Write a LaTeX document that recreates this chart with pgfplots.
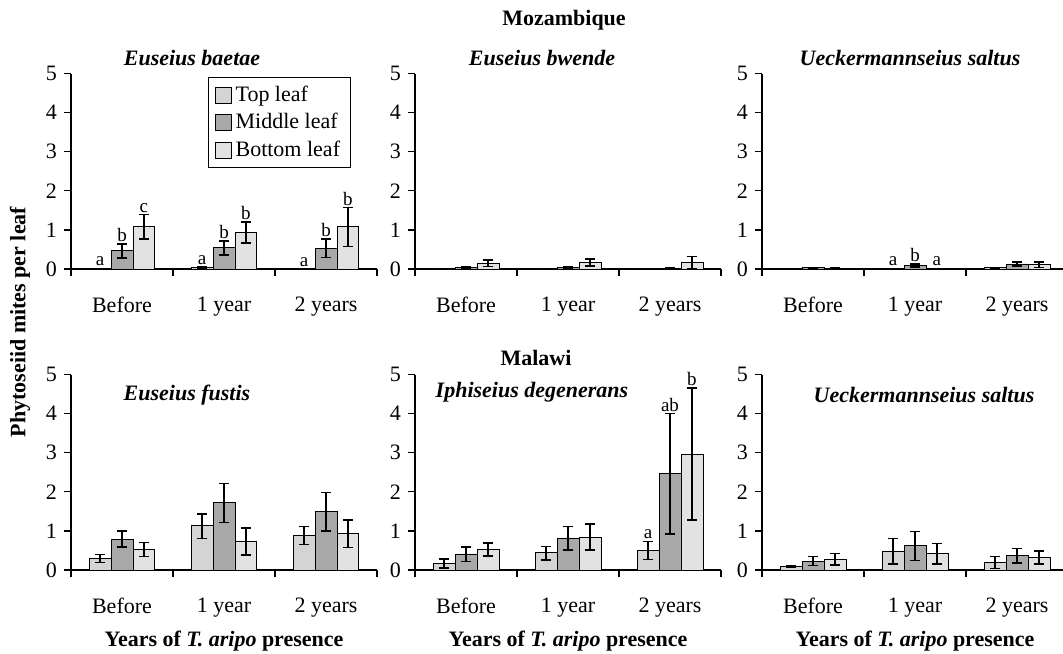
\documentclass[border=0pt]{standalone}
\usepackage{fontspec}
\setmainfont{Liberation Serif}
\usepackage{pgfplots}
\pgfplotsset{compat=1.18}
\usepackage{pgfplotstable}

\definecolor{topc}{HTML}{D4D4D4}
\definecolor{midc}{HTML}{A8A8A8}
\definecolor{botc}{HTML}{E2E2E2}

% x  top  tp  tm  mid  mp  mm  bot  bp  bm
\pgfplotstableread{
x t tp tm m mp mm b bp bm
0 0.02 0.00 0.00 0.47 0.17 0.19 1.08 0.31 0.31
1 0.04 0.01 0.01 0.55 0.17 0.19 0.94 0.26 0.27
2 0.01 0.00 0.00 0.53 0.24 0.23 1.08 0.49 0.51
}\tabA
\pgfplotstableread{
x t tp tm m mp mm b bp bm
0 0.00 0.00 0.00 0.04 0.01 0.01 0.15 0.08 0.08
1 0.00 0.00 0.00 0.05 0.02 0.02 0.17 0.09 0.09
2 0.00 0.00 0.00 0.02 0.01 0.01 0.17 0.15 0.15
}\tabB
\pgfplotstableread{
x t tp tm m mp mm b bp bm
0 0.01 0.00 0.00 0.03 0.01 0.01 0.02 0.01 0.01
1 0.02 0.00 0.00 0.09 0.04 0.04 0.02 0.00 0.00
2 0.03 0.00 0.00 0.13 0.05 0.05 0.11 0.07 0.07
}\tabC
\pgfplotstableread{
x t tp tm m mp mm b bp bm
0 0.29 0.10 0.10 0.79 0.21 0.20 0.53 0.17 0.18
1 1.13 0.30 0.32 1.72 0.50 0.51 0.73 0.34 0.35
2 0.89 0.23 0.23 1.49 0.50 0.49 0.93 0.35 0.35
}\tabD
\pgfplotstableread{
x t tp tm m mp mm b bp bm
0 0.16 0.12 0.11 0.41 0.18 0.19 0.53 0.16 0.17
1 0.44 0.16 0.18 0.82 0.30 0.31 0.84 0.34 0.33
2 0.51 0.22 0.24 2.47 1.53 1.55 2.96 1.69 1.68
}\tabE
\pgfplotstableread{
x t tp tm m mp mm b bp bm
0 0.08 0.02 0.02 0.23 0.11 0.11 0.27 0.15 0.14
1 0.48 0.32 0.33 0.62 0.36 0.37 0.43 0.25 0.28
2 0.20 0.14 0.16 0.37 0.18 0.19 0.32 0.17 0.17
}\tabF

\tikzset{
  sig/.style={font=\fontsize{9.5}{10}\selectfont, above, inner sep=1pt},
  ttl/.style={font=\fontsize{11}{13}\selectfont\bfseries\itshape},
}
\pgfplotsset{
  panel/.style={
    scale only axis, width=153pt, height=97.75pt,
    xmin=-0.5, xmax=2.5, ymin=0, ymax=5,
    axis x line=bottom, axis y line=left,
    axis line style={-, line width=0.6pt},
    ytick={0,1,2,3,4,5},
    xtick={0,1,2}, xticklabels={Before,1 year,2 years},
    minor xtick={-0.5,0.5,1.5,2.5},
    tick align=outside,
    major tick length=3.5pt, minor tick length=3.5pt,
    major x tick style={draw=none},
    every tick/.style={black, line width=0.6pt},
    /pgf/number format/assume math mode=true,
    font=\fontsize{11}{13}\selectfont,
    xticklabel style={yshift=-7pt},
    ybar=0pt, bar width=0.215,
    error bars/y dir=both, error bars/y explicit,
    error bars/error bar style={black, line width=0.7pt},
    error bars/error mark options={rotate=90, mark size=2.6pt, line width=0.7pt, black},
    legend image code/.code={\draw[#1, draw=black, line width=0.5pt] (0pt,-4pt) rectangle (8pt,4pt);},
    clip=false,
  },
  topbar/.style={fill=topc, draw=black, line width=0.4pt},
  midbar/.style={fill=midc, draw=black, line width=0.4pt},
  botbar/.style={fill=botc, draw=black, line width=0.4pt},
}

\newcommand{\threebars}[1]{%
  \addplot[topbar] table[x=x, y=t, y error plus=tp, y error minus=tm] {#1};
  \addplot[midbar] table[x=x, y=m, y error plus=mp, y error minus=mm] {#1};
  \addplot[botbar] table[x=x, y=b, y error plus=bp, y error minus=bm] {#1};
}

\begin{document}
\begin{tikzpicture}
\useasboundingbox (0,0) rectangle (531.5pt,-326.5pt);

% ---------- top row ----------
\begin{axis}[panel, at={(35.5pt,-134.5pt)}, anchor=south west,
  legend style={at={(0.448,0.98)}, anchor=north west, draw=black, line width=0.5pt,
    font=\fontsize{11}{13}\selectfont, row sep=0.5pt, inner xsep=3pt, inner ysep=2pt,
    /tikz/every even column/.append style={column sep=1pt}},
  legend cell align=left]
\threebars{\tabA}
\legend{Top leaf, Middle leaf, Bottom leaf}
\node[sig] at (axis cs:-0.215,0.02) {a};
\node[sig] at (axis cs:0,0.64) {b};
\node[sig] at (axis cs:0.215,1.39) {c};
\node[sig] at (axis cs:0.785,0.05) {a};
\node[sig] at (axis cs:1,0.72) {b};
\node[sig] at (axis cs:1.215,1.20) {b};
\node[sig] at (axis cs:1.785,0.01) {a};
\node[sig] at (axis cs:2,0.77) {b};
\node[sig] at (axis cs:2.215,1.57) {b};
\end{axis}

\begin{axis}[panel, at={(207.5pt,-134.5pt)}, anchor=south west]
\threebars{\tabB}
\end{axis}

\begin{axis}[panel, at={(381pt,-134.5pt)}, anchor=south west]
\threebars{\tabC}
\node[sig] at (axis cs:0.785,0.02) {a};
\node[sig] at (axis cs:1,0.13) {b};
\node[sig] at (axis cs:1.215,0.02) {a};
\end{axis}

% ---------- bottom row ----------
\begin{axis}[panel, at={(35.5pt,-285pt)}, anchor=south west,
  xlabel={\bfseries Years of \textit{T. aripo} presence},
  xlabel style={at={(axis description cs:0.5,-0.365)}, anchor=center}]
\threebars{\tabD}
\end{axis}

\begin{axis}[panel, at={(207.5pt,-285pt)}, anchor=south west,
  xlabel={\bfseries Years of \textit{T. aripo} presence},
  xlabel style={at={(axis description cs:0.5,-0.365)}, anchor=center}]
\threebars{\tabE}
\node[sig] at (axis cs:1.785,0.73) {a};
\node[sig] at (axis cs:2,4.00) {ab};
\node[sig] at (axis cs:2.215,4.65) {b};
\end{axis}

\begin{axis}[panel, at={(381pt,-285pt)}, anchor=south west,
  xlabel={\bfseries Years of \textit{T. aripo} presence},
  xlabel style={at={(axis description cs:0.5,-0.365)}, anchor=center}]
\threebars{\tabF}
\end{axis}

% ---------- titles ----------
\node[font=\fontsize{11}{13}\selectfont\bfseries] at (282pt,-10pt) {Mozambique};
\node[font=\fontsize{11}{13}\selectfont\bfseries] at (268pt,-179pt) {Malawi};
\node[ttl] at (96pt,-29pt) {Euseius baetae};
\node[ttl] at (271pt,-29pt) {Euseius bwende};
\node[ttl] at (455pt,-29pt) {Ueckermannseius saltus};
\node[ttl] at (93.5pt,-197.5pt) {Euseius fustis};
\node[ttl] at (266pt,-196pt) {Iphiseius degenerans};
\node[ttl] at (462pt,-197.5pt) {Ueckermannseius saltus};
\node[font=\fontsize{11}{13}\selectfont\bfseries, rotate=90] at (10pt,-161pt) {Phytoseiid mites per leaf};
\end{tikzpicture}
\end{document}
